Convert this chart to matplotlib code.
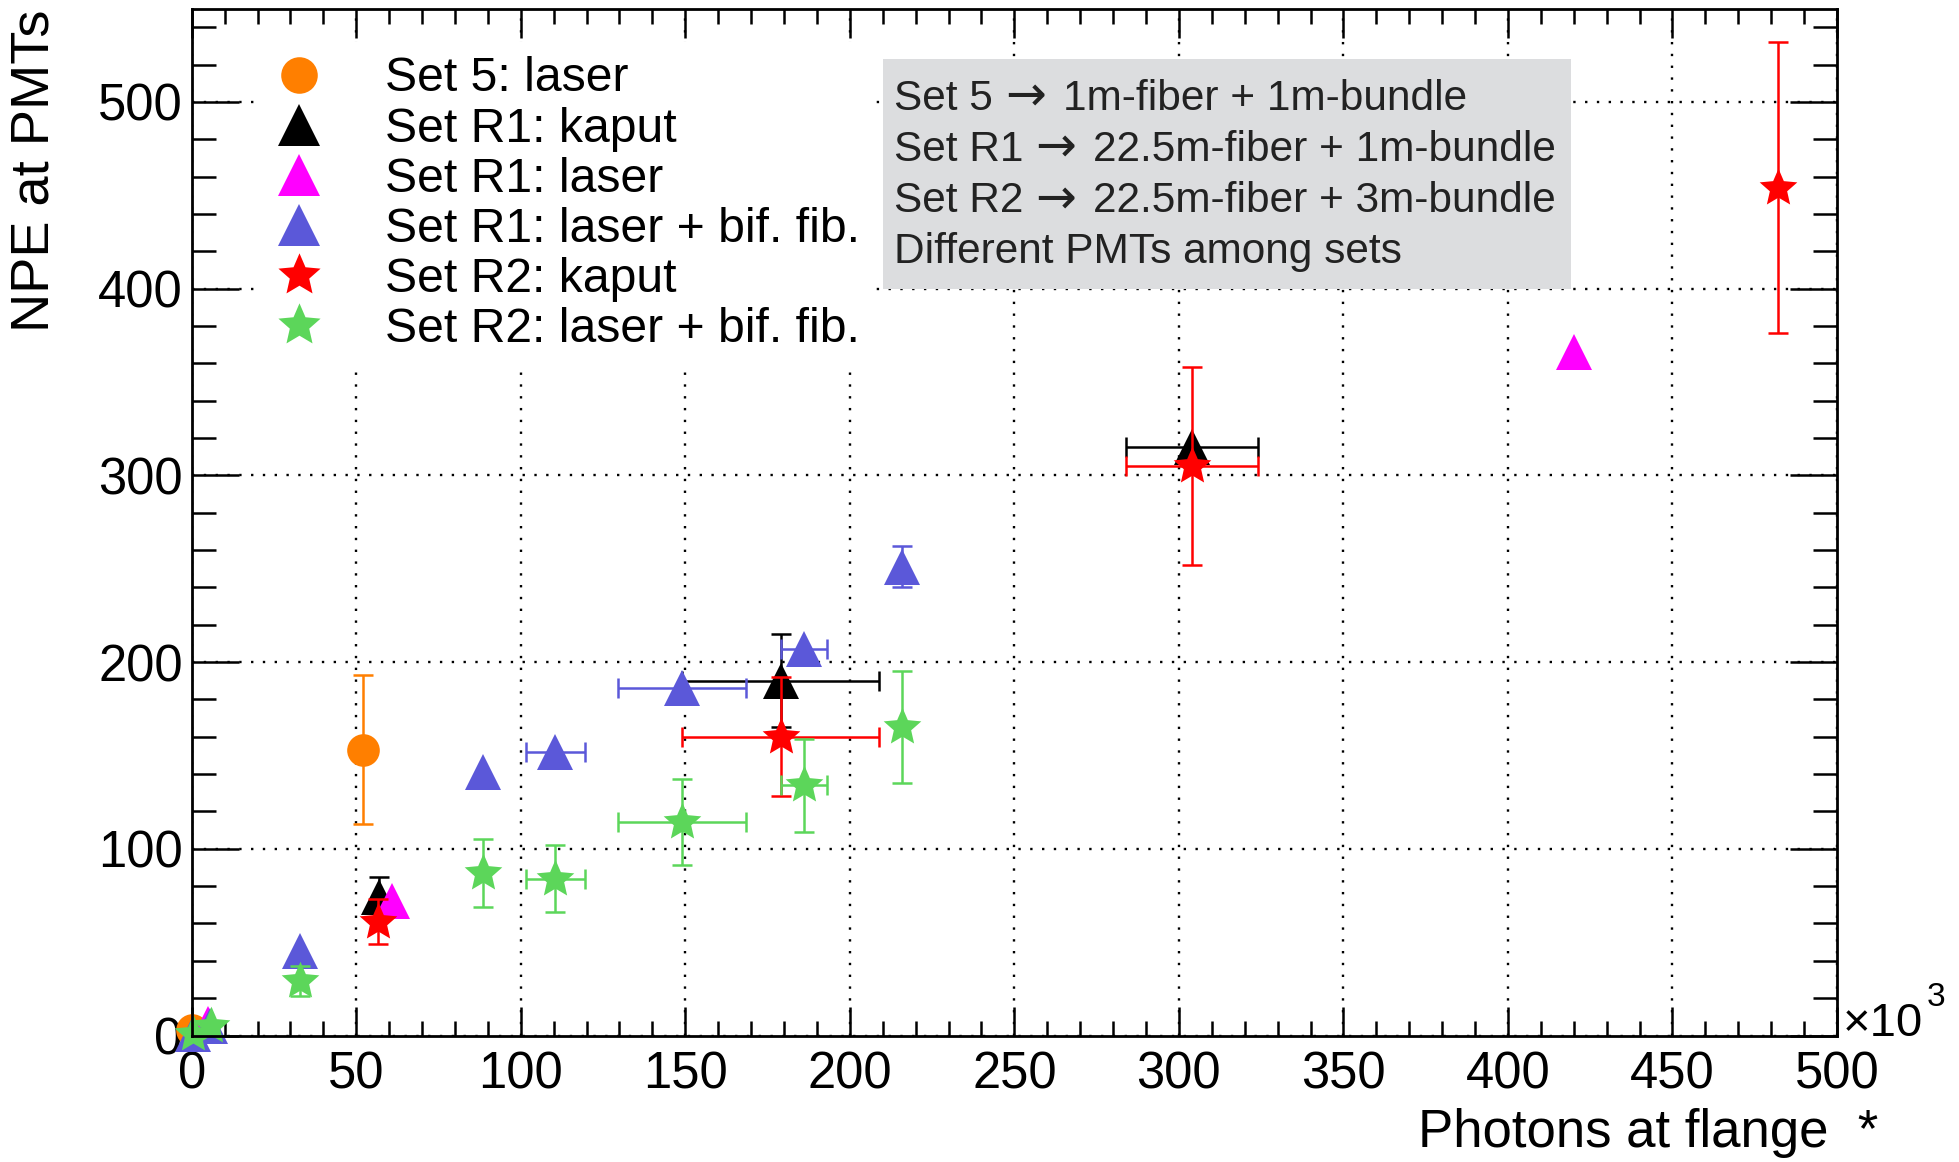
import numpy as np
import matplotlib
matplotlib.use("Agg")
import matplotlib.pyplot as plt
from matplotlib.lines import Line2D
from matplotlib.patches import Rectangle
from matplotlib.path import Path
from matplotlib.ticker import MultipleLocator

plt.rcParams['font.family'] = ['Liberation Sans', 'DejaVu Sans']

nan = np.nan
# ---------------- data (x in units of 10^3 photons) ----------------
s5_laser_x = [0.0, 52.0]
s5_laser_y = [3.0, 153.0]
s5_laser_xerr = [nan, nan]
s5_laser_yerr = [nan, 40.0]

r1_kaput_x = [57.0, 179.0, 304.0]
r1_kaput_y = [74.0, 190.0, 315.0]
r1_kaput_xerr = [nan, 30.0, 20.0]
r1_kaput_yerr = [11.0, 25.0, nan]

r1_laser_x = [5.0, 61.0, 420.0]
r1_laser_y = [6.0, 72.0, 366.0]

r1_bif_x = [0.5, 5.5, 33.0, 88.5, 110.5, 149.0, 186.0, 216.0]
r1_bif_y = [1.0, 5.0, 45.0, 141.0, 152.0, 186.0, 207.0, 251.0]
r1_bif_xerr = [nan, nan, nan, nan, 9.0, 19.5, 7.0, nan]
r1_bif_yerr = [nan, nan, nan, nan, nan, nan, nan, 11.0]

r2_kaput_x = [56.5, 179.0, 304.0, 482.0]
r2_kaput_y = [61.0, 160.0, 305.0, 454.0]
r2_kaput_xerr = [nan, 30.0, 20.0, nan]
r2_kaput_yerr = [12.0, 32.0, 53.0, 78.0]

r2_bif_x = [0.5, 6.0, 33.0, 88.5, 110.5, 149.0, 186.0, 216.0]
r2_bif_y = [1.0, 5.0, 29.0, 87.0, 84.0, 114.5, 134.0, 165.0]
r2_bif_xerr = [nan, nan, nan, nan, 9.0, 19.5, 7.0, nan]
r2_bif_yerr = [nan, nan, 8.0, 18.0, 18.0, 23.0, 25.0, 30.0]

labels = ["Set 5: laser", "Set R1: kaput", "Set R1: laser",
          "Set R1: laser + bif. fib.", "Set R2: kaput", "Set R2: laser + bif. fib."]
notes = ["Set 5 \u2192 1m-fiber + 1m-bundle",
         "Set R1 \u2192 22.5m-fiber + 1m-bundle",
         "Set R2 \u2192 22.5m-fiber + 3m-bundle",
         "Different PMTs among sets"]
x_ticks = [0, 50, 100, 150, 200, 250, 300, 350, 400, 450, 500]
y_ticks = [0, 100, 200, 300, 400, 500]

# ---------------- styles ----------------
C_ORANGE = '#ff7f00'
C_BLACK = '#000000'
C_MAGENTA = '#ff00ff'
C_BLUE = '#5b58d9'
C_RED = '#ff0000'
C_GREEN = '#5cd65a'
STAR = Path.unit_regular_star(5, 0.46)

series = [
    (s5_laser_x, s5_laser_y, s5_laser_xerr, s5_laser_yerr, 'o', C_ORANGE, 23.5),
    (r1_kaput_x, r1_kaput_y, r1_kaput_xerr, r1_kaput_yerr, '^', C_BLACK, 26.6),
    (r1_laser_x, r1_laser_y, None, None, '^', C_MAGENTA, 26.6),
    (r1_bif_x, r1_bif_y, r1_bif_xerr, r1_bif_yerr, '^', C_BLUE, 26.6),
    (r2_kaput_x, r2_kaput_y, r2_kaput_xerr, r2_kaput_yerr, STAR, C_RED, 28.5),
    (r2_bif_x, r2_bif_y, r2_bif_xerr, r2_bif_yerr, STAR, C_GREEN, 28.5),
]

W, H = 1959, 1162
fig = plt.figure(figsize=(W / 100, H / 100), dpi=100)
renderer = fig.canvas.get_renderer()
ax_l, ax_r, ax_t, ax_b = 191.7, 1837.0, 8.5, 1035.5
ax = fig.add_axes([ax_l / W, (H - ax_b) / H, (ax_r - ax_l) / W, (ax_b - ax_t) / H])

ax.set_xlim(0, 500)
ax.set_ylim(0, 550)

for i, (x, y, xe, ye, m, c, ms) in enumerate(series):
    if xe is not None or ye is not None:
        ax.errorbar(x, y, xerr=xe, yerr=ye, fmt='none', ecolor=c,
                    elinewidth=1.8, capsize=7, capthick=1.8, zorder=3 + 2 * i)
    ax.plot(x, y, linestyle='none', marker=m, color=c, ms=ms, mew=0,
            zorder=4 + 2 * i, clip_on=False)

# axes styling
ax.set_xticks(x_ticks)
ax.set_yticks(y_ticks)
ax.xaxis.set_minor_locator(MultipleLocator(10))
ax.yaxis.set_minor_locator(MultipleLocator(20))
for sp in ax.spines.values():
    sp.set_linewidth(2.0)
    sp.set_zorder(30)
ax.tick_params(axis='both', which='both', direction='in', top=True, right=True,
               width=1.8, labelsize=36.5)
ax.tick_params(axis='x', which='major', length=21, pad=11)
ax.tick_params(axis='x', which='minor', length=10.5)
ax.tick_params(axis='y', which='major', length=34, pad=6.5)
ax.tick_params(axis='y', which='minor', length=17)
ax.set_axisbelow(True)
ax.grid(True, which='major', color='k', linestyle=(0, (1, 4)), linewidth=1.7)

# legend (marker-only handles)
handles = [Line2D([], [], linestyle='none', marker=m, color=c, ms=ms * 1.12, mew=0)
           for (_, _, _, _, m, c, ms) in series]
fs_leg = 34.7
L = 260.0
leg = ax.legend(handles, labels, loc='upper left',
                bbox_to_anchor=((L - ax_l) / (ax_r - ax_l), (ax_b - 42) / (ax_b - ax_t)),
                fontsize=fs_leg, frameon=True, fancybox=False, framealpha=1,
                edgecolor='none', facecolor='white', handlelength=1.0,
                handletextpad=1.3, labelspacing=0.105, borderpad=0.3,
                borderaxespad=0, numpoints=1)
leg.set_zorder(40)

# grey info box
bx0, bx1, by0, by1 = 883.0, 1570.5, 58.7, 288.6
rect = Rectangle((bx0 / W, 1 - by1 / H), (bx1 - bx0) / W, (by1 - by0) / H,
                 transform=fig.transFigure, facecolor='#dcdddf', edgecolor='none',
                 zorder=41, clip_on=False)
ax.add_artist(rect)
baselines = [110, 161, 212.3, 263.3]
fs_note = 30.5
px_per_pt = 100 / 72
for t, b in zip(notes, baselines):
    yb = 1 - b / H
    kw = dict(fontsize=fs_note, color='#222222', ha='left', va='baseline', zorder=42)
    if '\u2192' in t:
        pre, post = [s.strip() for s in t.split('\u2192')]
        t1 = fig.text(894.5 / W, yb, pre, **kw)
        x1 = t1.get_window_extent(renderer).x1 + 0.27 * fs_note * px_per_pt
        kw_arrow = dict(kw, fontsize=fs_note * 1.15)
        t2 = fig.text(x1 / W, yb, '\u2192', family=['DejaVu Sans'], **kw_arrow)
        x2 = t2.get_window_extent(renderer).x1 + 0.40 * fs_note * px_per_pt
        fig.text(x2 / W, yb, post, **kw)
    else:
        fig.text(894.5 / W, yb, t, **kw)

# axis titles
fig.text(35 / W, 1 - 9 / H, "NPE at PMTs", rotation=90, fontsize=39,
         ha='center', va='top')
fig.text(1878 / W, 1 - 1147 / H, "Photons at flange  *", fontsize=38,
         ha='right', va='baseline')
tx = fig.text(1843 / W, 1 - 1036 / H, "\u00d710", fontsize=34, ha='left', va='baseline')
xr = tx.get_window_extent(renderer).x1
fig.text((xr + 3) / W, 1 - 1006 / H, "3", fontsize=24, ha='left', va='baseline')

fig.savefig("out.png", dpi=100)
